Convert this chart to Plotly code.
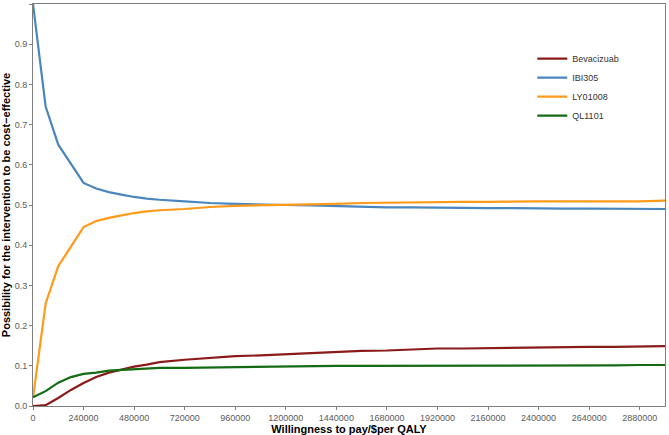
import plotly.graph_objects as go

wtp = [0, 60000, 120000, 180000, 240000, 300000, 360000, 420000, 480000, 540000,
       600000, 720000, 840000, 960000, 1080000, 1200000, 1320000, 1440000, 1560000,
       1680000, 1800000, 1920000, 2040000, 2160000, 2280000, 2400000, 2520000,
       2640000, 2760000, 2880000, 3000000]

bevacizuab = [0, 0.002, 0.02, 0.04, 0.057, 0.072, 0.083, 0.091, 0.098, 0.103, 0.109,
              0.115, 0.12, 0.124, 0.126, 0.129, 0.131, 0.134, 0.137, 0.138, 0.141,
              0.143, 0.143, 0.144, 0.144, 0.145, 0.146, 0.147, 0.147, 0.148, 0.149]
ibi305 = [1.0, 0.745, 0.65, 0.603, 0.555, 0.541, 0.532, 0.526, 0.52, 0.516, 0.513,
          0.509, 0.505, 0.503, 0.501, 0.5, 0.499, 0.497, 0.496, 0.494, 0.494, 0.493,
          0.493, 0.492, 0.492, 0.491, 0.491, 0.491, 0.491, 0.491, 0.49]
ly01008 = [0.02, 0.255, 0.348, 0.395, 0.445, 0.46, 0.468, 0.474, 0.48, 0.484, 0.487,
           0.49, 0.495, 0.498, 0.499, 0.501, 0.502, 0.503, 0.505, 0.506, 0.507, 0.507,
           0.508, 0.508, 0.509, 0.509, 0.509, 0.509, 0.509, 0.509, 0.511]
ql1101 = [0.022, 0.037, 0.058, 0.072, 0.08, 0.083, 0.088, 0.09, 0.092, 0.094, 0.095,
          0.095, 0.096, 0.097, 0.098, 0.099, 0.099, 0.1, 0.1, 0.1, 0.1, 0.1, 0.1, 0.1,
          0.101, 0.101, 0.101, 0.101, 0.101, 0.102, 0.102]

series_names = ["Bevacizuab", "IBI305", "LY01008", "QL1101"]
series_values = [bevacizuab, ibi305, ly01008, ql1101]
series_colors = ["#8B1A1A", "#4A86BE", "#FF9A1A", "#136B13"]

x_ticks = list(range(0, 3000001, 240000))
y_ticks = [i / 10 for i in range(11)]

fig = go.Figure()
for name, vals, col in zip(series_names, series_values, series_colors):
    fig.add_trace(go.Scatter(x=wtp, y=vals, mode="lines", name=name,
                             line=dict(color=col, width=2.2)))

axis_common = dict(showgrid=False, zeroline=False, showline=True, mirror=True,
                   linecolor="#7f7f7f", linewidth=1, ticks="outside", ticklen=3,
                   tickcolor="#7f7f7f", tickfont=dict(size=9, color="#5a5a5a"),
                   automargin=False)

fig.update_layout(
    width=669, height=435,
    margin=dict(l=33, r=4, t=4, b=29, pad=0),
    plot_bgcolor="white", paper_bgcolor="white",
    font=dict(family="Liberation Sans, Arial, sans-serif"),
    xaxis=dict(range=[0, 3000000], tickvals=x_ticks,
               ticktext=[str(v) for v in x_ticks],
               title=dict(text="<b>Willingness to pay/$per QALY</b>",
                          font=dict(size=11, color="black"), standoff=0),
               **axis_common),
    yaxis=dict(range=[0, 1], tickvals=y_ticks, tickformat=".1f",
               title=dict(text="<b>Possibility for the intervention to be cost\u2212effective</b>",
                          font=dict(size=11, color="black"), standoff=2),
               **axis_common),
    legend=dict(x=0.79, y=0.9, xanchor="left", yanchor="top",
                font=dict(size=9, color="#333333"), bgcolor="rgba(0,0,0,0)",
                tracegroupgap=0, itemwidth=30),
    showlegend=True,
)

fig.write_html("out.html", config={"displayModeBar": False},
               post_script="document.body.style.margin='0';document.body.style.overflow='hidden';")
